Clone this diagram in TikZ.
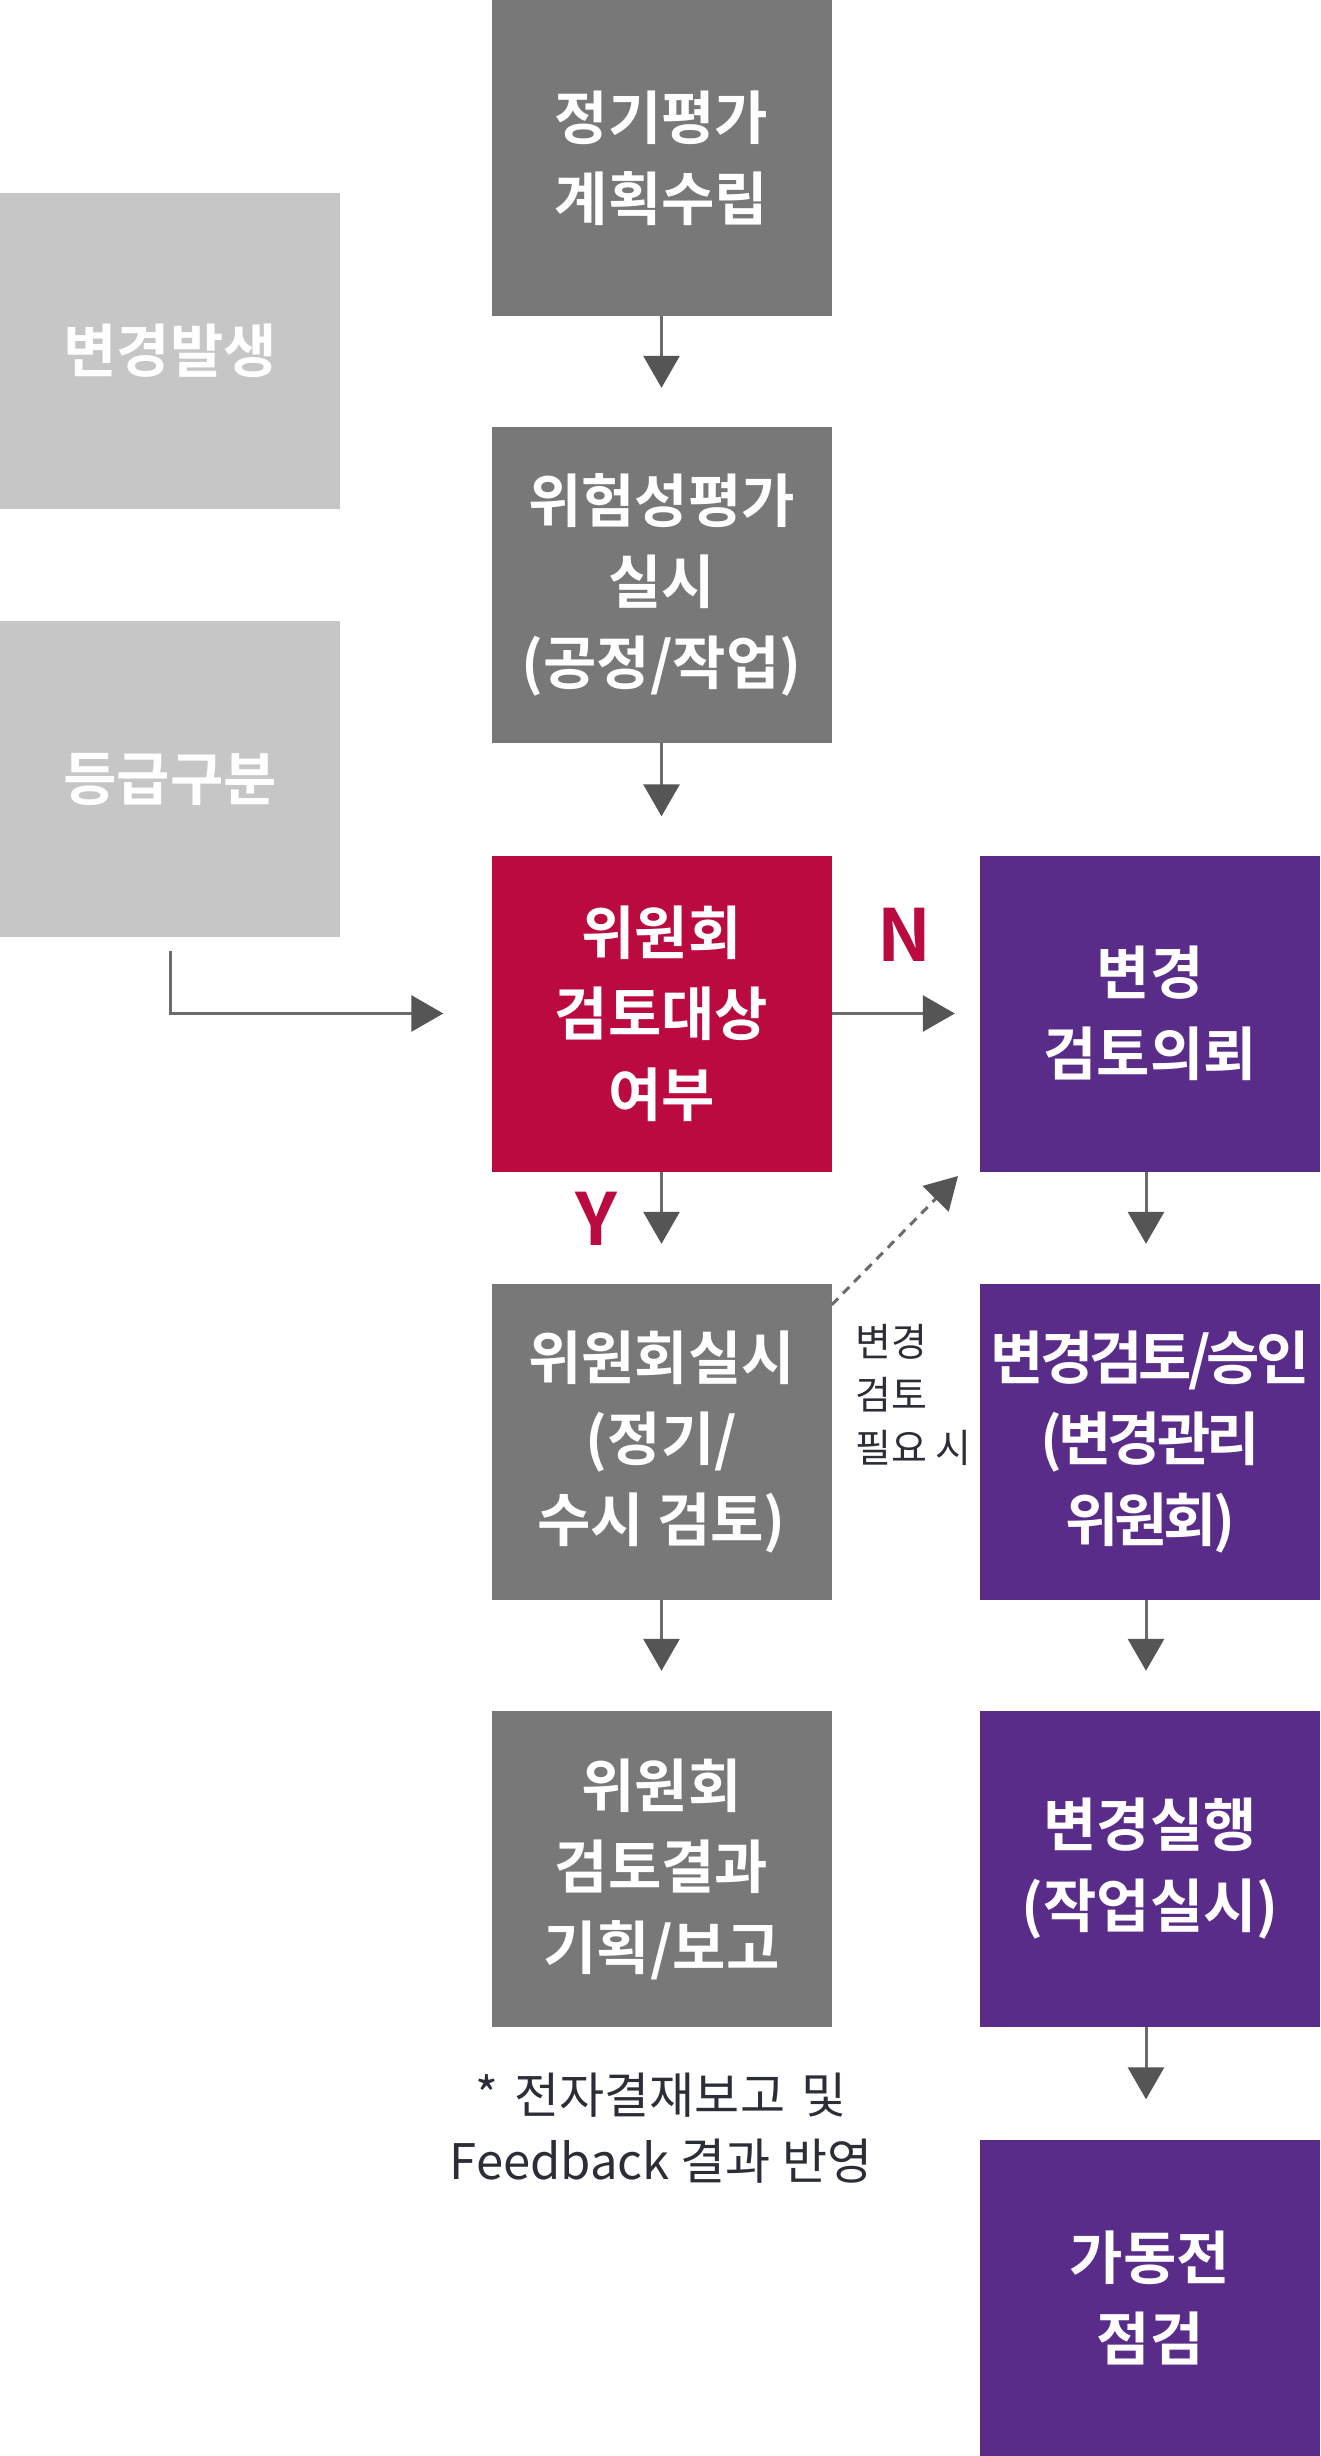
\documentclass[tikz,border=0pt]{standalone}
\usepackage{fontspec}
\setmainfont{Noto Sans CJK KR}[BoldFont={Noto Sans CJK KR Bold}]
\usetikzlibrary{arrows.meta}
\definecolor{boxgray}{HTML}{787878}
\definecolor{lgray}{HTML}{C6C6C6}
\definecolor{crimson}{HTML}{BB0A3F}
\definecolor{purp}{HTML}{5A2C8A}
\definecolor{lineg}{HTML}{6B6B6B}
\definecolor{tipg}{HTML}{555555}
\definecolor{txt}{HTML}{2B2E37}
\newcommand\tk{\kern-4pt}
\begin{document}
\begin{tikzpicture}[x=1pt,y=-1pt,
  box/.style={rectangle, minimum width=340pt, minimum height=316pt, inner sep=0pt,
    text=white, align=center, font=\fontsize{58}{81}\selectfont\bfseries},
  gbox/.style={box, fill=boxgray},
  lbox/.style={box, fill=lgray},
  rbox/.style={box, fill=crimson},
  pbox/.style={box, fill=purp},
  arr/.style={line width=3pt, draw=lineg, -{Triangle[length=32pt,width=36pt,color=tipg]}},
  yn/.style={text=crimson, font=\fontsize{72}{72}\selectfont\bfseries, inner sep=0pt},
]
\fill[white] (0,0) rectangle (1320,2456);
\useasboundingbox (0,0) rectangle (1320,2456);

\node[gbox] (plan) at (661.5,158) {정기평가\\계획수립};
\node[lbox] (chg) at (170,351) {변경발생};
\node[gbox] (risk) at (661.5,585) {위험성평가\\실시\\(공정/작업)};
\node[lbox] (grade) at (170,779) {등급구분};
\node[rbox] (comm) at (661.5,1013.5) {위원회\\검토대상\\여부};
\node[pbox] (req) at (1150,1013.5) {변경\\검토의뢰};
\node[gbox] (meet) at (661.5,1442) {위원회실시\\(정기/\\수시 검토)};
\node[pbox] (appr) at (1150,1442) {변\tk 경\tk 검\tk 토\tk /\tk 승\tk 인\\(\tk 변\tk 경\tk 관\tk 리\\위\tk 원\tk 회\tk )};
\node[gbox] (res) at (661.5,1869) {위원회\\검토결과\\기획/보고};
\node[pbox] (exec) at (1150,1869) {변경실행\\(작업실시)};
\node[pbox] (chk) at (1150,2297.5) {가동전\\점검};

\node[yn] (N) at (904,935) {N};
\node[yn] (Y) at (596,1219) {Y};

\node[font=\fontsize{39}{53}\selectfont, text=txt, align=left, anchor=west, inner sep=0pt] (side) at (855,1395) {변경\\검토\\필요 시};
\node[font=\fontsize{49}{66}\selectfont, text=txt, align=center, inner sep=0pt] (note) at (661,2128) {*\,\,전자결재보고\,\,및\\Feedback 결과 반영};

\draw[arr, shorten >=39pt] (plan.south) -- (risk.north);
\draw[arr, shorten >=39pt] (risk.south) -- (comm.north);
\draw[arr, shorten <=14pt, shorten >=48pt] (grade.south) |- (comm.west);
\draw[arr, shorten >=25pt] (comm.east) -- (req.west);
\draw[arr, shorten >=40pt] (comm.south) -- (meet.north);
\draw[arr, shorten >=40pt] (meet.south) -- (res.north);
\draw[arr, shorten >=40pt] ([xshift=-4pt]req.south) -- ([xshift=-4pt]appr.north);
\draw[arr, shorten >=40pt] ([xshift=-4pt]appr.south) -- ([xshift=-4pt]exec.north);
\draw[arr, shorten >=40pt] ([xshift=-4pt]exec.south) -- ([xshift=-4pt]chk.north);
\coordinate (dtip) at (958,1176);
\draw[arr, dash pattern=on 9pt off 7pt] ([yshift=-21pt]meet.north east) -- (dtip);
\end{tikzpicture}
\end{document}
